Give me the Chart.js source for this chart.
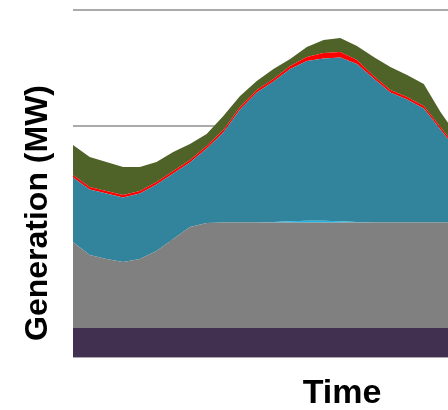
<!DOCTYPE html>
<html>
<head>
<meta charset="utf-8">
<script src="https://cdn.jsdelivr.net/npm/chart.js@4"></script>
<style>
  html, body { margin: 0; padding: 0; background: #fff; overflow: hidden; }
  #wrap { width: 448px; height: 410px; position: relative; }
</style>
</head>
<body>
<div id="wrap"><canvas id="myChart"></canvas></div>
<script>
// time steps (chart is cut off on the right, last one falls outside)
var hours = [0, 1, 2, 3, 4, 5, 6, 7, 8, 9, 10, 11, 12, 13, 14, 15, 16, 17, 18, 19, 20, 21, 22, 23];

// generation layers, bottom to top (MW)
var purpleBase = [250, 250, 250, 250, 250, 250, 250, 250, 250, 250, 250, 250, 250, 250, 250, 250, 250, 250, 250, 250, 250, 250, 250, 250];
var grayLayer = [744, 632, 597, 571, 597, 666, 770, 874, 908, 913, 913, 913, 913, 913, 913, 913, 913, 913, 913, 913, 913, 913, 913, 913];
var lightBlueLayer = [0, 0, 0, 0, 0, 0, 0, 0, 0, 0, 0, 0, 5, 10, 15, 15, 10, 5, 0, 0, 0, 0, 0, 0];
var tealLayer = [558, 566, 566, 558, 566, 575, 566, 557, 644, 778, 977, 1124, 1214, 1317, 1381, 1403, 1416, 1365, 1245, 1124, 1063, 985, 804, 614];
var redLayer = [22, 22, 22, 22, 22, 22, 22, 22, 22, 22, 22, 22, 22, 26, 35, 48, 48, 35, 22, 22, 22, 22, 22, 22];
var oliveLayer = [259, 259, 251, 242, 207, 173, 164, 138, 104, 121, 95, 78, 86, 61, 86, 112, 121, 121, 164, 199, 190, 190, 130, 112];

var yTicks = [0, 1000, 2000, 3000];

var xTitle = 'Time';
var yTitle = 'Generation (MW)';

function pts(arr) {
    return arr.map(function (v, i) { return { x: hours[i], y: v }; });
}

function layer(label, arr, color, fill) {
    return {
        label: label,
        data: pts(arr),
        backgroundColor: color,
        borderColor: color,
        borderWidth: 0,
        pointRadius: 0,
        tension: 0,
        fill: fill
    };
}

// axis titles sit off-centre in the original, so draw them by hand
var titlesPlugin = {
    id: 'titles',
    afterDraw: function (chart) {
        var c = chart.ctx;
        c.save();
        c.fillStyle = '#000';
        c.font = 'bold 34px "Liberation Sans", Arial, sans-serif';
        c.textAlign = 'center';
        c.textBaseline = 'alphabetic';
        c.fillText(xTitle, 342, 403);
        c.translate(47, 213);
        c.rotate(-Math.PI / 2);
        c.font = 'bold 32px "Liberation Sans", Arial, sans-serif';
        c.fillText(yTitle, 0, 0);
        c.restore();
    }
};

var ctx = document.getElementById('myChart').getContext('2d');

var myChart = new Chart(ctx, {
    type: 'line',
    data: {
        datasets: [
            layer('Purple', purpleBase, '#41304f', 'origin'),
            layer('Gray', grayLayer, '#808080', '-1'),
            layer('Light blue', lightBlueLayer, '#1fb4e6', '-1'),
            layer('Teal', tealLayer, '#31849b', '-1'),
            layer('Red', redLayer, '#ff0000', '-1'),
            layer('Olive', oliveLayer, '#4f6228', '-1')
        ]
    },
    options: {
        responsive: true,
        maintainAspectRatio: false,
        animation: false,
        layout: {
            padding: { left: 73, right: 0, top: 10, bottom: 53 }
        },
        plugins: {
            legend: { display: false },
            tooltip: { enabled: false }
        },
        scales: {
            x: {
                type: 'linear',
                min: 0,
                max: 22.45,
                display: false
            },
            y: {
                stacked: true,
                min: 0,
                max: 3000,
                afterBuildTicks: function (axis) {
                    axis.ticks = yTicks.map(function (v) { return { value: v }; });
                },
                ticks: { display: false },
                border: { display: false },
                grid: {
                    color: '#aaaaaa',
                    lineWidth: 2,
                    drawTicks: false
                }
            }
        }
    },
    plugins: [titlesPlugin]
});
</script>
</body>
</html>
